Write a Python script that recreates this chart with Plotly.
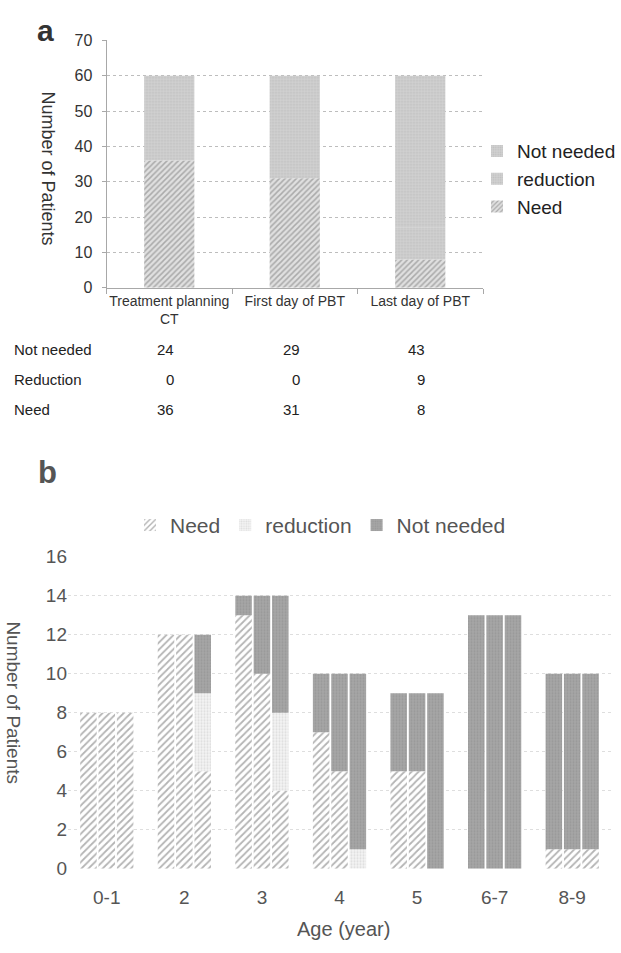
import plotly.graph_objects as go

# ---------------- data ----------------
# Panel a
cats_a = ["Treatment planning<br>CT", "First day of PBT", "Last day of PBT"]
need_a = [36, 31, 8]
red_a = [0, 0, 9]
not_a = [24, 29, 43]
table_rows = ["Not needed", "Reduction", "Need"]

# Panel b
ages = ["0-1", "2", "3", "4", "5", "6-7", "8-9"]
need_ct = [8, 12, 13, 7, 5, 0, 1]
red_ct = [0, 0, 0, 0, 0, 0, 0]
not_ct = [0, 0, 1, 3, 4, 13, 9]
need_first = [8, 12, 10, 5, 5, 0, 1]
red_first = [0, 0, 0, 0, 0, 0, 0]
not_first = [0, 0, 4, 5, 4, 13, 9]
need_last = [8, 5, 4, 0, 0, 0, 1]
red_last = [0, 4, 4, 1, 0, 0, 0]
not_last = [0, 3, 6, 9, 9, 13, 9]

W, H = 621, 953
FONT = "Liberation Sans, Arial, sans-serif"


def py(px):
    return 1 - px / H


def px_(px):
    return px / W


fig = go.Figure()

# ---------------- panel a ----------------
light_a = dict(color="#cacaca", line=dict(width=0),
               pattern=dict(shape=".", fgcolor="#adadad", bgcolor="#d1d1d1",
                            size=3, solidity=0.35))
base_red_a = [n for n in need_a]
base_not_a = [n + r for n, r in zip(need_a, red_a)]
fig.add_trace(go.Bar(
    x=cats_a, y=need_a, base=[0] * 3, name="Need", width=0.4,
    xaxis="x", yaxis="y", legend="legend", offsetgroup="a",
    marker=dict(color="#dadada", line=dict(width=0),
                pattern=dict(shape="/", fgcolor="#747474", bgcolor="#e0e0e0",
                             size=4, solidity=0.38)),
))
fig.add_trace(go.Bar(
    x=cats_a, y=red_a, base=base_red_a, name="reduction", width=0.4,
    xaxis="x", yaxis="y", legend="legend", offsetgroup="a", marker=light_a,
))
fig.add_trace(go.Bar(
    x=cats_a, y=not_a, base=base_not_a, name="Not needed", width=0.4,
    xaxis="x", yaxis="y", legend="legend", offsetgroup="a", marker=light_a,
))

# ---------------- panel b ----------------
need_style = dict(color="white", line=dict(width=0),
                  pattern=dict(shape="/", fgcolor="#6a6a6a", bgcolor="white",
                               size=5, solidity=0.35))
red_style = dict(color="white", line=dict(width=0),
                 pattern=dict(shape=".", fgcolor="#c4c4c4", bgcolor="#f4f4f4",
                              size=3, solidity=0.4))
not_style = dict(color="#a0a0a0", line=dict(width=0),
                 pattern=dict(shape=".", fgcolor="#888888", bgcolor="#a6a6a6",
                              size=3, solidity=0.3))

groups = [
    (need_ct, red_ct, not_ct),
    (need_first, red_first, not_first),
    (need_last, red_last, not_last),
]
for gi, (nd, rd, nt) in enumerate(groups):
    b_red = list(nd)
    b_not = [a + b for a, b in zip(nd, rd)]
    first = gi == 0
    fig.add_trace(go.Bar(x=ages, y=nd, base=[0] * len(ages), name="Need",
                         legendgroup="need", showlegend=first, offsetgroup=str(gi),
                         xaxis="x2", yaxis="y2", legend="legend2", marker=need_style))
    fig.add_trace(go.Bar(x=ages, y=rd, base=b_red, name="reduction",
                         legendgroup="red", showlegend=first, offsetgroup=str(gi),
                         xaxis="x2", yaxis="y2", legend="legend2", marker=red_style))
    fig.add_trace(go.Bar(x=ages, y=nt, base=b_not, name="Not needed",
                         legendgroup="not", showlegend=first, offsetgroup=str(gi),
                         xaxis="x2", yaxis="y2", legend="legend2", marker=not_style))

# ---------------- annotations ----------------
def note(text, x, y, size, color, angle=0, xanchor="center", xref="paper", xshift=0):
    return dict(text=text, x=x, y=py(y), xref=xref, yref="paper",
                xanchor=xanchor, yanchor="middle", textangle=angle,
                xshift=xshift, showarrow=False,
                font=dict(size=size, color=color, family=FONT))


ann = [
    note("<b>a</b>", px_(45), 21, 30, "#333"),
    note("<b>b</b>", px_(47), 473, 31, "#555"),
    note("Number of Patients", px_(48), 162, 18, "#333", angle=90),
    note("Number of Patients", px_(14), 708, 19, "#555", angle=90),
    note("Age (year)", px_(343), 940, 20, "#555"),
]

row_vals = [not_a, red_a, need_a]
row_y = [347, 378, 409]
for label, vals, yy in zip(table_rows, row_vals, row_y):
    ann.append(note(label, px_(12), yy, 15, "#222", xanchor="left"))
    for c, v in zip(cats_a, vals):
        ann.append(note(str(v), c, yy, 15, "#222", xanchor="right", xref="x", xshift=7))

fig.update_layout(
    width=W, height=H,
    margin=dict(l=0, r=0, t=0, b=0),
    paper_bgcolor="white", plot_bgcolor="white",
    barmode="group", bargap=0.29, bargroupgap=0.1,
    font=dict(family=FONT),
    annotations=ann,
    xaxis=dict(domain=[px_(106.5), px_(483)], anchor="y", type="category",
               showline=True, linecolor="#a8a8a8", ticks="outside",
               tickson="boundaries", ticklen=5, tickcolor="#a8a8a8",
               tickangle=0, tickfont=dict(size=14, color="#333"), showgrid=False),
    yaxis=dict(domain=[py(284), py(31)], anchor="x", range=[0, 70], dtick=10,
               showline=True, linecolor="#a8a8a8", ticks="outside", ticklen=4,
               tickcolor="#a8a8a8", gridcolor="#bdbdbd", griddash="dot",
               zeroline=False, tickfont=dict(size=16, color="#333"),
               ticklabelstandoff=6),
    xaxis2=dict(domain=[px_(68), px_(611)], anchor="y2", type="category",
                showline=False, ticks="", showgrid=False, tickangle=0,
                tickfont=dict(size=19, color="#555"), ticklabelstandoff=15),
    yaxis2=dict(domain=[py(878), py(559)], anchor="x2", range=[0, 16], dtick=2,
                showline=False, gridcolor="#dedede", griddash="dot",
                zeroline=False, tickfont=dict(size=19, color="#555")),
    legend=dict(x=1, y=py(173), xanchor="right", yanchor="middle",
                traceorder="reversed", bgcolor="rgba(0,0,0,0)",
                font=dict(size=19, color="#222", family=FONT), itemwidth=30),
    legend2=dict(orientation="h", x=px_(130), y=py(527), xanchor="left",
                 yanchor="middle", bgcolor="rgba(0,0,0,0)",
                 font=dict(size=21, color="#555", family=FONT), itemwidth=30),
)

fig.write_html(
    "out.html",
    config={"displayModeBar": False},
    post_script="document.body.style.margin='0';document.body.style.overflow='hidden';",
)
